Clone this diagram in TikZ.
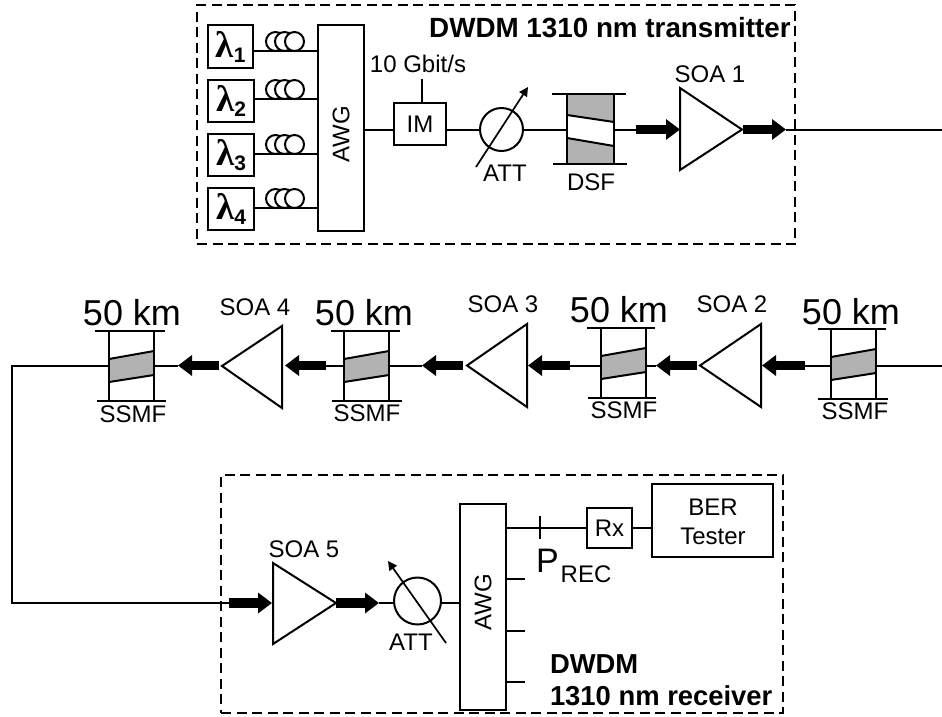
\documentclass[tikz,border=0pt]{standalone}
\usepackage{fontspec}
\setmainfont{Liberation Sans}
\newfontfamily\lamfont{Liberation Serif}
\usetikzlibrary{arrows.meta,calc}
\definecolor{fibregray}{RGB}{178,178,178}
\newcommand{\fs}[1]{\fontsize{#1}{#1}\selectfont}
\tikzset{
  wire/.style={line width=2pt},
  blockbox/.style={draw,line width=2pt,fill=white,inner sep=0pt,outer sep=0pt},
  dashbox/.style={draw,line width=1.2pt,dash pattern=on 10pt off 5.5pt,inner sep=0pt},
  label/.style={inner sep=0pt,outer sep=0pt,anchor=base,font=\fs{24}},
  biglabel/.style={inner sep=0pt,outer sep=0pt,anchor=base,font=\fs{36}},
  titlelabel/.style={inner sep=0pt,outer sep=0pt,anchor=base west,font=\fs{27.4}\bfseries},
  fat/.style={line width=9.5pt,-{Triangle[length=14pt,width=20pt]}},
  amp/.style={draw,line width=2pt,fill=white,line join=miter},
  thinarrow/.style={line width=1.7pt,-{Triangle[length=9pt,width=9pt]}},
}
% source box with wavelength label
\newcommand{\srcbox}[6]{% name, x1, y1, x2, y2, index
  \node[blockbox,minimum width=#4-#2,minimum height=#5-#3] (#1) at ({(#2+#4)/2},{(#3+#5)/2})
    {\lamfont\fs{37}\bfseries λ\raisebox{-5pt}{\fontspec{Liberation Sans}\fs{21}\bfseries #6}};}
% fibre coil sitting on a line
\newcommand{\coil}[1]{%
  \foreach \cx in {275.5,284.5,294.5}
    \draw[wire,fill=white] (\cx,#1-9.5) circle (9.5);}
% SSMF span: name, left x, y shift, line-top x1,x2, line-bottom x1,x2
\newcommand{\fibrespan}[7]{%
  \begin{scope}[yshift=-1pt*(#3)]
  \fill[fibregray] (#2,359) -- (#2+45,351) -- (#2+45,375) -- (#2,382) -- cycle;
  \draw[wire] (#2,359) -- (#2+45,351) (#2,382) -- (#2+45,375);
  \draw[wire] (#2,331) -- (#2,401) (#2+45,331) -- (#2+45,401);
  \draw[wire] (#4,331) -- (#5,331) (#6,401) -- (#7,401);
  \end{scope}
  \coordinate (#1l) at (#2,365.5);
  \coordinate (#1r) at (#2+45,365.5);}
\begin{document}
\begin{tikzpicture}[x=1pt,y=-1pt]
\useasboundingbox (0,0) rectangle (942,716);
% ---------- transmitter ----------
\node[dashbox,minimum width=598pt,minimum height=239pt] (txframe) at (496,124.5) {};
\srcbox{la1}{208}{25}{253}{68}{1}
\srcbox{la2}{208}{80}{254}{122}{2}
\srcbox{la3}{208}{134}{254}{176}{3}
\srcbox{la4}{208}{188}{254}{230}{4}
\node[blockbox,minimum width=46pt,minimum height=206pt] (awgt) at (341,128) {};
\node[inner sep=0pt,rotate=90,font=\fs{24}] (awgtl) at (341,134) {AWG};
\foreach \n/\y in {1/51,2/99,3/154,4/208}{
  \coordinate (ln\n) at (280,\y);
  \draw[wire] (la\n.east |- ln\n) -- (awgt.west |- ln\n);
  \coil{\y}
}
\node[blockbox,minimum width=52pt,minimum height=42pt,font=\fs{24}] (im) at (420,124) {IM};
\coordinate (imy) at (420,129.5);
\node[label] (gbit) at (418,72) {10 Gbit/s};
\coordinate (imtop) at (422,79);
\draw[wire] (imtop) -- (imtop |- im.north);
\draw[wire] (awgt.east |- imy) -- (im.west |- imy);
\node[circle,draw,line width=2pt,minimum size=43pt,inner sep=0pt,outer sep=0pt] (att) at (501.5,129.5) {};
\draw[wire] (im.east |- imy) -- (att.west);
\coordinate (attA) at (476,167);
\coordinate (attB) at (528,87);
\draw[thinarrow] (attA) -- (attB);
\node[label] (attl) at (505,181) {ATT};
% DSF
\fill[fibregray] (567,94) rectangle (614,164);
\fill[white] (567,115) -- (614,122) -- (614,146) -- (567,138) -- cycle;
\draw[wire] (567,115) -- (614,122) (567,138) -- (614,146);
\draw[wire] (567,94) -- (567,164) (614,94) -- (614,164);
\draw[wire] (552,94) -- (626,94) (553,164) -- (627,164);
\coordinate (dsfl) at (567,129.5);
\coordinate (dsfr) at (614,129.5);
\node[label] (dsflab) at (591,190) {DSF};
\draw[wire] (att.east) -- (dsfl);
\coordinate (fa1s) at (636,129.5);
\draw[wire] (dsfr) -- (fa1s);
\draw[amp] (680,88) -- (742,129.5) -- (680,170) -- cycle;
\coordinate (soa1in) at (680,129.5);
\coordinate (soa1out) at (743,129.5);
\node[label] (soa1) at (710,82) {SOA 1};
\draw[fat] (fa1s) -- (soa1in);
\coordinate (fa2e) at (786,129.5);
\draw[fat] (soa1out) -- (fa2e);
\coordinate (topend) at (942,129.5);
\draw[wire] (fa2e) -- (topend);
\node[inner sep=0pt,anchor=base west,font=\fs{27.8}\bfseries] (txt) at (429,37) {DWDM 1310 nm transmitter};
% ---------- line ----------
\fibrespan{ua}{831}{-2}{818}{886}{818}{888}
\fibrespan{ub}{601}{-3}{587}{655}{588}{656}
\fibrespan{uc}{344}{0}{331}{400}{332}{402}
\fibrespan{ud}{109}{0}{95}{165}{97}{166}
\coordinate (rightend) at (942,365.5);
\draw[wire] (uar) -- (rightend);
\node[biglabel] (k1) at (851,324) {50 km};
\node[biglabel] (k2) at (619,322) {50 km};
\node[biglabel] (k3) at (364,325) {50 km};
\node[biglabel] (k4) at (132,325) {50 km};
\node[label] (s1) at (855,419) {SSMF};
\node[label] (s2) at (624,418) {SSMF};
\node[label] (s3) at (367,421) {SSMF};
\node[label] (s4) at (133,422) {SSMF};
% amps
\draw[amp] (700,365.5) -- (761,324) -- (761,407) -- cycle;
\draw[amp] (467,365.5) -- (527,324) -- (527,407) -- cycle;
\draw[amp] (222,366) -- (282,326) -- (282,408) -- cycle;
\node[label] (soa2) at (732,312) {SOA 2};
\node[label] (soa3) at (503,312) {SOA 3};
\node[label] (soa4) at (255,315) {SOA 4};
% fat arrows, right to left
\coordinate (a1s) at (805,365.5);
\coordinate (a1e) at (762,365.5);
\coordinate (a2s) at (697,365.5);
\coordinate (a2e) at (656,365.5);
\coordinate (a3s) at (570,365.5);
\coordinate (a3e) at (528,365.5);
\coordinate (a4s) at (463,365.5);
\coordinate (a4e) at (422,365.5);
\coordinate (a5s) at (326,365.5);
\coordinate (a5e) at (285,365.5);
\coordinate (a6s) at (219,365.5);
\coordinate (a6e) at (178,365.5);
\draw[wire] (ual) -- (a1s);
\draw[wire] (ubr) -- (a2e);
\draw[wire] (ubl) -- (a3s);
\draw[wire] (ucr) -- (a4e);
\draw[wire] (ucl) -- (a5s);
\draw[wire] (udr) -- (a6e);
\foreach \n in {1,...,6} \draw[fat] (a\n s) -- (a\n e);
% ---------- receiver ----------
\node[dashbox,minimum width=562pt,minimum height=238pt] (rxframe) at (502,594) {};
\coordinate (bendt) at (12,365.5);
\coordinate (bendb) at (12,603);
\coordinate (fa5s) at (229,603);
\draw[wire,line join=miter] (udl) -- (bendt) -- (bendb) -- (fa5s);
\draw[amp] (273,563) -- (336,603) -- (273,644) -- cycle;
\coordinate (soa5in) at (272,603);
\coordinate (soa5out) at (336,603);
\coordinate (fa6e) at (379,603);
\draw[fat] (fa5s) -- (soa5in);
\draw[fat] (soa5out) -- (fa6e);
\node[label] (soa5) at (304,557) {SOA 5};
\node[circle,draw,line width=2pt,minimum size=47pt,inner sep=0pt,outer sep=0pt] (attr) at (417.5,601) {};
\draw[wire] (fa6e) -- (attr.west |- fa6e);
\node[blockbox,minimum width=46pt,minimum height=206pt] (awgr) at (483,607) {};
\node[inner sep=0pt,rotate=90,font=\fs{24}] (awgrl) at (483,602) {AWG};
\draw[wire] (attr.east |- fa6e) -- (awgr.west |- fa6e);
\coordinate (attrA) at (446,643);
\coordinate (attrB) at (388,561);
\draw[thinarrow] (attrA) -- (attrB);
\node[label] (attrl) at (411,650) {ATT};
\node[blockbox,minimum width=45pt,minimum height=40pt,font=\fs{24}] (rx) at (609.5,528) {Rx};
\node[blockbox,minimum width=121pt,minimum height=73pt] (ber) at (712.5,520.5) {};
\node[label] (ber1) at (713,515) {BER};
\node[label] (ber2) at (713,544) {Tester};
\draw[wire] (awgr.east |- rx.west) -- (rx.west);
\draw[wire] (rx.east) -- (ber.west |- rx.east);
\coordinate (tickA) at (540,516);
\coordinate (tickB) at (540,539);
\draw[line width=1.5pt] (tickA) -- (tickB);
\node[inner sep=0pt,anchor=base west,font=\fs{34}] (prec) at (536,572) {P};
\node[inner sep=0pt,anchor=base west,font=\fs{24}] (rec) at (560.5,582) {REC};
\foreach \n/\y in {2/579,3/631,4/682}{
  \coordinate (rout\n) at (525,\y);
  \draw[wire] (awgr.east |- rout\n) -- (rout\n);
}
\node[titlelabel] (rxt1) at (550,673) {DWDM};
\node[titlelabel] (rxt2) at (550,705) {1310 nm receiver};
\end{tikzpicture}
\end{document}
